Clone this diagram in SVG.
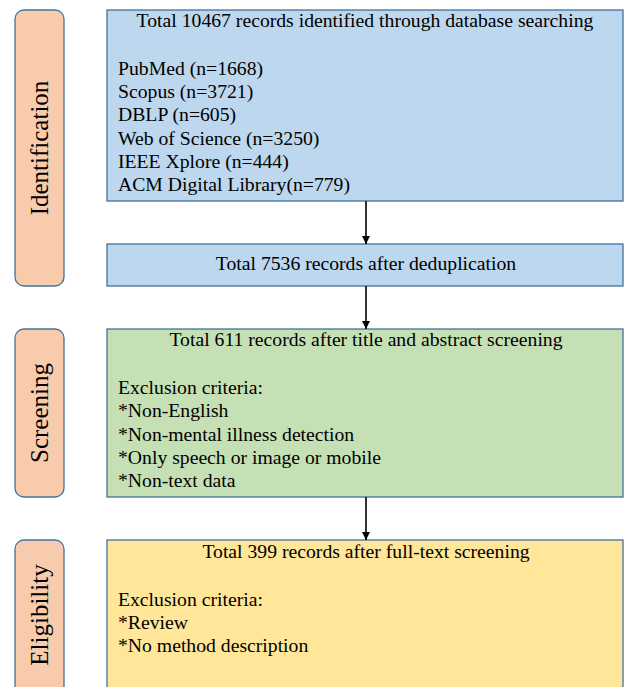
<svg xmlns="http://www.w3.org/2000/svg" width="627" height="687" viewBox="0 0 627 687" font-family="'Liberation Serif', 'Times New Roman', serif">
<style>
text{font-family:'Liberation Serif','Times New Roman',serif;fill:#000}
.t{font-size:19.7px}
.c{text-anchor:middle}
.lab{font-size:25px;text-anchor:middle}
.side{fill:#F8CBAD;stroke:#41719C;stroke-width:1.3}
.box{stroke:#41719C;stroke-width:1.3}
.blue{fill:#BDD7EE}.green{fill:#C5E0B4}.yellow{fill:#FFE699}
.conn{stroke:#000;stroke-width:1.6;fill:none;marker-end:url(#ah)}
</style>
<defs>
<marker id="ah" viewBox="0 0 10 10" refX="10" refY="5" markerWidth="8" markerHeight="8" markerUnits="userSpaceOnUse" orient="auto">
<path d="M0,0L10,5L0,10z" fill="#000"/>
</marker>
</defs>
<rect width="627" height="687" fill="#fff"/>
<g id="label-identification">
<rect class="side" x="15" y="10" width="49" height="276" rx="9"/>
<text class="lab" transform="translate(48,148) rotate(-90)">Identification</text>
</g>
<g id="label-screening">
<rect class="side" x="15" y="329" width="49" height="168" rx="9"/>
<text class="lab" transform="translate(48,413) rotate(-90)">Screening</text>
</g>
<g id="label-eligibility">
<rect class="side" x="15" y="540" width="49" height="160" rx="9"/>
<text class="lab" transform="translate(48,615) rotate(-90)">Eligibility</text>
</g>
<g id="box-identified">
<rect class="box blue" x="107" y="10" width="516" height="191"/>
<text class="t c" x="365" y="27">Total 10467 records identified through database searching</text>
<text class="t" x="118" y="75">PubMed (n=1668)</text>
<text class="t" x="118" y="98">Scopus (n=3721)</text>
<text class="t" x="118" y="121">DBLP (n=605)</text>
<text class="t" x="118" y="145">Web of Science (n=3250)</text>
<text class="t" x="118" y="168">IEEE Xplore (n=444)</text>
<text class="t" x="118" y="191">ACM Digital Library(n=779)</text>
</g>
<g id="box-dedup">
<rect class="box blue" x="107" y="244" width="516" height="42"/>
<text class="t c" x="366" y="270">Total 7536 records after deduplication</text>
</g>
<g id="box-screening">
<rect class="box green" x="107" y="329" width="516" height="168"/>
<text class="t c" x="366" y="346">Total 611 records after title and abstract screening</text>
<text class="t" x="118" y="394">Exclusion criteria:</text>
<text class="t" x="118" y="417">*Non-English</text>
<text class="t" x="118" y="441">*Non-mental illness detection</text>
<text class="t" x="118" y="464">*Only speech or image or mobile</text>
<text class="t" x="118" y="487">*Non-text data</text>
</g>
<g id="box-eligibility">
<rect class="box yellow" x="107" y="540" width="516" height="160"/>
<text class="t c" x="366" y="558">Total 399 records after full-text screening</text>
<text class="t" x="118" y="606">Exclusion criteria:</text>
<text class="t" x="118" y="629">*Review</text>
<text class="t" x="118" y="652">*No method description</text>
</g>
<g id="connectors">
<line class="conn" x1="366" y1="201" x2="366" y2="244"/>
<line class="conn" x1="366" y1="286" x2="366" y2="329"/>
<line class="conn" x1="366" y1="497" x2="366" y2="540"/>
</g>
</svg>
